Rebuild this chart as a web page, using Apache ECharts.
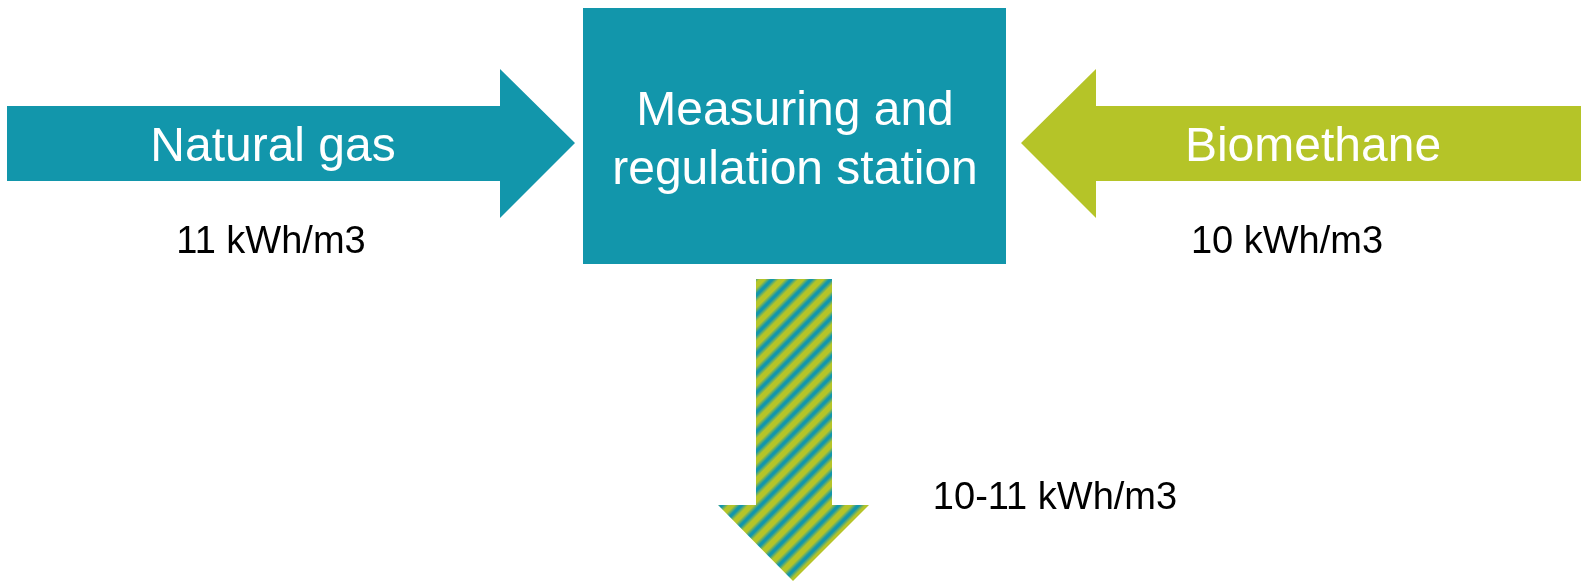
<!DOCTYPE html>
<html>
<head>
<meta charset="utf-8">
<script src="https://cdn.jsdelivr.net/npm/echarts@6/dist/echarts.min.js"></script>
<style>
html,body{margin:0;padding:0;background:#fff;}
#main{width:1581px;height:581px;}
</style>
</head>
<body>
<div id="main"></div>
<script>
// ---- content ----
const sourceNames = ['Natural gas', 'Biomethane'];
const sourceValues = ['11 kWh/m3', '10 kWh/m3'];
const stationLines = ['Measuring and', 'regulation station'];
const outputValue = '10-11 kWh/m3';

// ---- style ----
const TEAL = '#1296ab';
const GREEN = '#b5c428';
const FONT = '"Liberation Sans", Arial, sans-serif';

const chart = echarts.init(document.getElementById('main'), null, {renderer: 'canvas'});

// striped fill for the output arrow (diagonal "/" stripes)
function stripes(x0, y0, d, period, tealFrac) {
  const len = d * Math.SQRT2;
  const stops = [];
  const soft = 2;
  for (let p = 0; p < len; p += period) {
    const a = p / len, b = (p + period * (1 - tealFrac)) / len, c = (p + period) / len;
    const e = soft / len;
    stops.push({offset: Math.min(a + e, 1), color: GREEN});
    stops.push({offset: Math.min(b - e, 1), color: GREEN});
    stops.push({offset: Math.min(b + e, 1), color: TEAL});
    stops.push({offset: Math.min(c - e, 1), color: TEAL});
  }
  return new echarts.graphic.LinearGradient(x0, y0, x0 + d, y0 + d, stops, true);
}

const big = '48px ' + FONT;
const small = '38px ' + FONT;
function txt(x, y, s, fill, font) {
  return { type: 'text', x: x, y: y, style: {text: s, fill: fill, font: font, textAlign: 'center', textVerticalAlign: 'middle'} };
}

const graphics = [
  { type: 'polygon', shape: {points: [[7,106],[500,106],[500,69],[575,143],[500,218],[500,181],[7,181]]}, style: {fill: TEAL} },
  { type: 'rect', shape: {x: 583, y: 8, width: 423, height: 256}, style: {fill: TEAL} },
  { type: 'polygon', shape: {points: [[1021,143],[1096,69],[1096,106],[1581,106],[1581,181],[1096,181],[1096,218]]}, style: {fill: GREEN} },
  { type: 'polygon', shape: {points: [[756,279],[832,279],[832,505],[869,505],[793,581],[718,505],[756,505]]},
    style: {fill: stripes(718, 279, 240, 13.8, 0.42)} },
  txt(273, 148, sourceNames[0], '#fff', big),
  txt(1313, 148, sourceNames[1], '#fff', big),
  txt(795, 112, stationLines[0], '#fff', big),
  txt(795, 171, stationLines[1], '#fff', big),
  txt(271, 243, sourceValues[0], '#000', small),
  txt(1287, 243, sourceValues[1], '#000', small),
  txt(1055, 499, outputValue, '#000', small)
];

chart.setOption({
  backgroundColor: '#ffffff',
  animation: false,
  graphic: graphics
});
</script>
</body>
</html>
